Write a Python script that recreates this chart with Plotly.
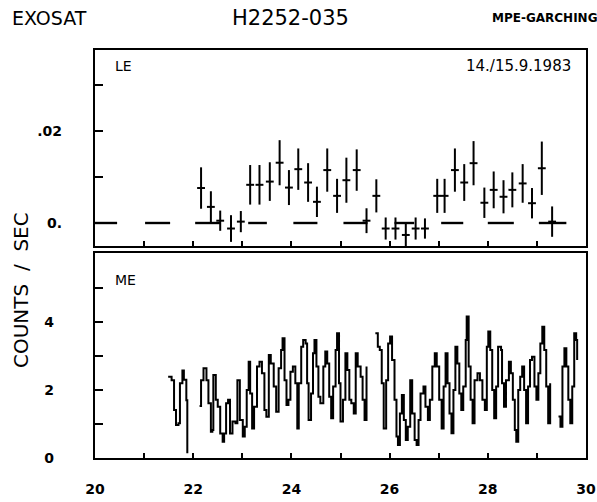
import plotly.graph_objects as go

# ---------------- LE data (counts/sec) ----------------
le_time = [22.16, 22.36, 22.55, 22.77, 22.97, 23.16, 23.35, 23.56, 23.76, 23.95,
           24.14, 24.34, 24.52, 24.73, 24.93, 25.12, 25.33, 25.53, 25.73, 25.92,
           26.12, 26.33, 26.53, 26.72, 26.97, 27.12, 27.33, 27.52, 27.71, 27.93,
           28.12, 28.32, 28.50, 28.71, 28.90, 29.10, 29.31]
le_rate = [0.0076, 0.0035, 0.0005, -0.0012, 0.0003, 0.0083, 0.0083, 0.0090, 0.0131, 0.0077,
           0.0117, 0.0088, 0.0046, 0.0115, 0.0059, 0.0093, 0.0115, 0.0005, 0.0059, -0.0012,
           -0.0012, -0.0026, -0.0012, -0.0012, 0.0059, 0.0059, 0.0115, 0.0088, 0.0130, 0.0044,
           0.0072, 0.0057, 0.0072, 0.0086, 0.0043, 0.0119, 0.0003]
le_err = [0.0045, 0.0034, 0.0022, 0.0029, 0.0023, 0.0043, 0.0043, 0.0042, 0.0049, 0.0038,
          0.0045, 0.0042, 0.0033, 0.0047, 0.0037, 0.0049, 0.0045, 0.0027, 0.0036, 0.0024,
          0.0024, 0.0024, 0.0024, 0.0022, 0.0037, 0.0037, 0.0047, 0.0040, 0.0048, 0.0033,
          0.0040, 0.0036, 0.0038, 0.0042, 0.0033, 0.0058, 0.0033]
le_halfbin = 0.08

# zero-level (background) intervals in the LE panel
bg_start = [20.00, 21.02, 22.04, 23.12, 24.04, 25.06, 26.10, 27.05, 28.00, 29.04]
bg_end = [20.45, 21.53, 22.55, 23.50, 24.53, 25.55, 26.50, 27.50, 28.53, 29.60]
bg_level = 0.0

# ---------------- ME data (counts/sec) ----------------
me_seg1_t = [21.49, 21.56, 21.61, 21.65, 21.70, 21.73, 21.78, 21.81, 21.86, 21.88]
me_seg1_r = [2.39, 2.29, 1.41, 0.97, 1.02, 2.20, 2.57, 2.30, 1.70, 0.14]

me_seg2_t = [22.13, 22.16, 22.21, 22.27, 22.31, 22.36, 22.39, 22.41, 22.46, 22.50,
             22.55, 22.60, 22.63, 22.67, 22.71, 22.75, 22.80, 22.86, 22.90, 22.95,
             23.01, 23.05, 23.09, 23.13, 23.16, 23.20, 23.24, 23.30, 23.35, 23.40,
             23.45, 23.49, 23.54, 23.58, 23.64, 23.69, 23.74, 23.79, 23.82, 23.86,
             23.90, 23.94, 23.98, 24.03, 24.08, 24.12, 24.15, 24.20, 24.24, 24.29,
             24.32, 24.35, 24.40, 24.44, 24.47, 24.51, 24.55, 24.59, 24.65, 24.69,
             24.73, 24.77, 24.81, 24.85, 24.90, 24.93, 24.97, 25.00, 25.05, 25.10,
             25.14, 25.18, 25.22, 25.27, 25.31, 25.35, 25.41, 25.45, 25.49, 25.53]
me_seg2_r = [1.53, 2.29, 2.64, 2.29, 1.61, 0.77, 0.82, 2.44, 1.71, 1.51,
             0.72, 0.48, 0.72, 1.61, 1.71, 0.72, 1.07, 1.02, 2.29, 1.12,
             0.63, 0.92, 2.00, 2.83, 1.90, 0.87, 1.51, 2.69, 2.83, 2.49,
             1.41, 1.21, 3.03, 2.78, 2.10, 1.36, 2.64, 3.18, 3.52, 2.29,
             1.56, 1.71, 2.54, 2.69, 2.20, 0.87, 2.20, 3.27, 3.47, 3.37,
             2.20, 1.12, 1.90, 3.08, 3.47, 2.69, 1.80, 1.61, 2.69, 3.13,
             2.78, 1.80, 1.17, 2.10, 3.18, 3.67, 2.20, 1.07, 1.71, 3.08,
             2.59, 1.71, 1.61, 1.31, 3.08, 2.69, 2.39, 1.71, 1.12, 2.69]

me_seg3_t = [25.71, 25.76, 25.80, 25.84, 25.88, 25.93, 25.97, 26.01, 26.05, 26.10,
             26.14, 26.17, 26.21, 26.25, 26.29, 26.33, 26.37, 26.42, 26.46, 26.51,
             26.55, 26.59, 26.63, 26.69, 26.73, 26.78, 26.82, 26.87, 26.92, 26.96,
             27.01, 27.06, 27.10, 27.14, 27.18, 27.22, 27.26, 27.30, 27.34, 27.38,
             27.42, 27.46, 27.50, 27.55, 27.57, 27.61, 27.65, 27.69, 27.73, 27.79,
             27.84, 27.89, 27.94, 27.98, 28.01, 28.05, 28.09, 28.13, 28.17, 28.21,
             28.27, 28.29, 28.33, 28.37, 28.43, 28.47, 28.51, 28.55, 28.58, 28.62,
             28.66, 28.70, 28.74, 28.78, 28.82, 28.86, 28.90, 28.95, 28.99, 29.03,
             29.07, 29.11, 29.15, 29.19, 29.23, 29.27]
me_seg3_r = [3.67, 3.27, 3.18, 2.20, 0.87, 2.29, 3.37, 3.57, 2.88, 1.71,
             0.63, 0.38, 1.31, 1.85, 1.12, 0.53, 0.92, 2.29, 1.31, 0.53,
             0.38, 1.12, 1.90, 2.10, 1.51, 1.12, 1.71, 2.69, 3.08, 2.69,
             1.71, 0.87, 2.10, 3.08, 2.20, 1.31, 0.73, 2.00, 3.27, 2.78,
             1.90, 1.41, 2.10, 3.47, 4.16, 2.69, 1.71, 1.02, 2.29, 2.49,
             2.29, 1.71, 1.41, 3.27, 3.72, 3.18, 2.00, 1.17, 2.10, 3.27,
             3.18, 2.20, 1.51, 2.29, 2.83, 2.49, 1.71, 0.82, 0.48, 2.00,
             2.39, 2.69, 2.00, 1.02, 2.10, 2.88, 2.98, 2.10, 1.71, 2.49,
             3.37, 3.86, 3.18, 2.10, 1.02, 2.20]

me_seg4_t = [29.44, 29.48, 29.52, 29.56, 29.60, 29.64, 29.68, 29.72, 29.76, 29.80, 29.82]
me_seg4_r = [1.22, 0.92, 2.69, 3.23, 2.69, 1.71, 1.02, 2.10, 3.67, 3.47, 2.88]

me_segments = [(me_seg1_t, me_seg1_r), (me_seg2_t, me_seg2_r),
               (me_seg3_t, me_seg3_r), (me_seg4_t, me_seg4_r)]

# axis ticks
x_ticks = list(range(20, 31))
x_ticklabels = ["20", "", "22", "", "24", "", "26", "", "28", "", "30"]
le_ticks = [0.0, 0.01, 0.02, 0.03]
le_ticklabels = ["0.", "", ".02", ""]
me_ticks = [0, 1, 2, 3, 4, 5]
me_ticklabels = ["0", "", "2", "", "4", ""]

FONT = "DejaVu Sans"
INK = "black"

fig = go.Figure()

# LE background intervals
bx, by = [], []
for s, e in zip(bg_start, bg_end):
    bx += [s, e, None]
    by += [bg_level, bg_level, None]
fig.add_trace(go.Scatter(x=bx, y=by, mode="lines", line=dict(color=INK, width=2.4),
                         xaxis="x", yaxis="y", showlegend=False, hoverinfo="skip"))

# LE crosses
fig.add_trace(go.Scatter(
    x=le_time, y=le_rate, mode="markers", marker=dict(size=0.1, color=INK),
    error_x=dict(type="constant", value=le_halfbin, width=0, thickness=2, color=INK),
    error_y=dict(type="data", array=le_err, width=0, thickness=2, color=INK),
    xaxis="x", yaxis="y", showlegend=False))

# ME light curve
for t, r in me_segments:
    fig.add_trace(go.Scatter(x=t, y=r, mode="lines",
                             line=dict(color=INK, width=2, shape="hv"),
                             xaxis="x2", yaxis="y2", showlegend=False))

axis_common = dict(showline=True, linecolor=INK, linewidth=2.4, mirror=True,
                   ticks="inside", tickcolor=INK, tickwidth=2, showgrid=False,
                   zeroline=False, automargin=False,
                   tickfont=dict(family=FONT, size=14, color=INK, weight="bold"))

fig.update_layout(
    width=597, height=502,
    margin=dict(l=95, r=11, t=50, b=44, autoexpand=False),
    paper_bgcolor="white", plot_bgcolor="white",
    xaxis=dict(domain=[0, 1], range=[20, 30], anchor="y", tickvals=x_ticks,
               ticktext=[""] * len(x_ticks), ticklen=5, **axis_common),
    yaxis=dict(domain=[0.5196, 1], range=[-0.005, 0.0376], anchor="x",
               tickvals=le_ticks, ticktext=le_ticklabels, ticklen=8,
               ticklabelstandoff=28, **axis_common),
    xaxis2=dict(domain=[0, 1], range=[20, 30], anchor="y2", tickvals=x_ticks,
                ticktext=x_ticklabels, ticklen=5, ticklabelstandoff=17, **axis_common),
    yaxis2=dict(domain=[0, 0.5025], range=[0, 6.03], anchor="x2",
                tickvals=me_ticks, ticktext=me_ticklabels, ticklen=8,
                ticklabelstandoff=36, **axis_common),
)

ann = [
    dict(text="EXOSAT", x=10, y=18, size=19, w="normal"),
    dict(text="H2252-035", x=230, y=18, size=21, w="normal"),
    dict(text="MPE-GARCHING", x=490, y=18, size=12, w="bold"),
    dict(text="LE", x=113, y=66, size=14, w="normal"),
    dict(text="14./15.9.1983", x=464, y=66, size=15, w="normal"),
    dict(text="ME", x=113, y=280, size=14, w="normal"),
]
for a in ann:
    fig.add_annotation(text=a["text"], xref="paper", yref="paper",
                       x=(a["x"] - 95) / 491, y=1 - (a["y"] - 50) / 408,
                       xanchor="left", yanchor="middle", showarrow=False,
                       font=dict(family=FONT, size=a["size"], color=INK, weight=a["w"]))
fig.add_annotation(text="COUNTS  /  SEC", xref="paper", yref="paper",
                   x=(21 - 95) / 491, y=1 - (290 - 50) / 408, textangle=-90,
                   xanchor="center", yanchor="middle", showarrow=False,
                   font=dict(family=FONT, size=20, color=INK))

fig.write_html("out.html")
